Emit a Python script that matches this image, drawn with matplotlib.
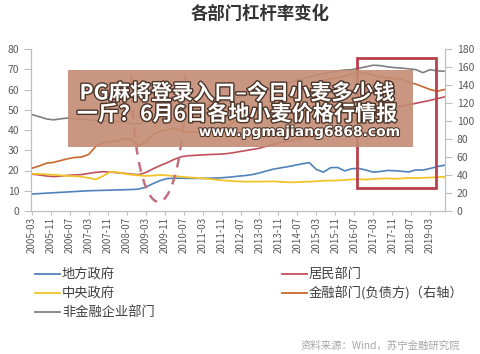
import matplotlib
matplotlib.use("Agg")
import matplotlib.pyplot as plt
import matplotlib.patheffects as pe
from matplotlib.patches import Rectangle, Arc
from matplotlib.lines import Line2D

plt.rcParams['font.family'] = ['Noto Sans CJK SC', 'DejaVu Sans']

# quarterly points, months counted from 2005-03
months = list(range(0, 175, 3))

local_gov = [8.4, 8.6, 8.8, 9.0, 9.2, 9.4, 9.6, 9.8, 10.0, 10.1, 10.2, 10.3,
             10.4, 10.5, 10.6, 10.8, 11.8, 13.5, 15.0, 16.0, 16.2, 16.2, 16.1, 16.1,
             16.1, 16.2, 16.3, 16.5, 16.8, 17.2, 17.5, 18.0, 18.8, 19.8, 20.7, 21.3,
             21.9, 22.6, 23.3, 23.9, 20.5, 19.2, 21.4, 21.5, 19.8, 20.9, 21.0, 20.2,
             19.2, 19.5, 20.0, 19.9, 19.6, 19.3, 20.3, 20.2, 21.0, 21.9, 22.6]
household = [18.2, 17.8, 17.3, 17.0, 17.2, 17.6, 17.8, 18.0, 18.6, 19.1, 19.4, 19.2,
             18.9, 18.6, 18.2, 17.9, 19.0, 20.8, 22.4, 23.8, 25.5, 26.8, 27.3, 27.5,
             27.7, 27.9, 28.0, 28.2, 28.6, 29.2, 29.8, 30.4, 31.0, 32.0, 33.0, 33.8,
             34.5, 35.2, 35.8, 36.4, 37.2, 38.5, 39.8, 41.0, 42.5, 44.2, 45.8, 47.3,
             48.5, 49.5, 50.3, 51.0, 51.8, 52.5, 53.2, 53.9, 54.6, 55.5, 56.3]
central_gov = [18.4, 18.3, 18.1, 17.9, 17.6, 17.3, 17.2, 16.9, 16.3, 15.6, 17.3, 19.3,
               19.2, 18.4, 17.9, 17.6, 17.3, 17.5, 17.8, 17.6, 17.2, 16.9, 16.6, 16.4,
               16.1, 15.8, 15.4, 15.1, 14.8, 14.6, 14.5, 14.5, 14.5, 14.6, 14.6, 14.4,
               14.2, 14.2, 14.4, 14.5, 14.7, 14.9, 15.0, 15.1, 15.3, 15.6, 15.7, 15.5,
               15.8, 16.0, 16.1, 15.9, 16.1, 16.3, 16.2, 16.4, 16.5, 16.7, 16.9]
corporate = [47.6, 46.6, 45.5, 45.0, 45.5, 45.9, 45.6, 45.3, 45.0, 44.6, 44.4, 44.5,
             44.2, 43.8, 43.2, 43.0, 44.5, 47.5, 49.5, 50.5, 51.0, 51.3, 51.5, 51.8,
             52.0, 52.5, 53.2, 54.0, 55.0, 56.0, 57.0, 58.0, 59.0, 60.0, 61.0, 62.0,
             63.2, 64.3, 65.3, 66.2, 67.0, 67.8, 68.5, 69.2, 69.6, 69.8, 70.5, 71.2,
             72.0, 71.8, 71.2, 70.8, 70.6, 70.2, 69.8, 68.3, 69.8, 69.2, 69.0]
financial = [47.5, 50, 53, 54, 56, 58, 59.5, 60, 63, 72, 76, 77,
             78, 80.5, 79, 72.5, 77, 85, 88.5, 90, 92, 89, 88, 87.5,
             87, 88.5, 89.5, 91, 97, 101, 104, 107, 110, 113, 117, 120,
             124, 128, 132, 136, 141, 145, 147, 148, 150, 152, 154, 153,
             151, 149, 148, 147, 146, 143, 141, 138, 135, 133, 135]

tick_months = list(range(0, 169, 8))
tick_labels = ["%d-%02d" % (2005 + (2 + m) // 12, (2 + m) % 12 + 1) for m in tick_months]

fig = plt.figure(figsize=(4.8, 3.54), dpi=100)
ax = fig.add_axes([31 / 480, 1 - 211 / 354, 414 / 480, 162 / 354])
ax2 = ax.twinx()

ax.plot(months, local_gov, color='#4f81bd', lw=1.2)
ax.plot(months, household, color='#c0505a', lw=1.2)
ax.plot(months, central_gov, color='#f2c42c', lw=1.3)
ax.plot(months, corporate, color='#808080', lw=1.2)
ax2.plot(months, financial, color='#c8682c', lw=1.2)

ax.set_xlim(-0.42, 174.3)
ax.set_ylim(0, 80)
ax2.set_ylim(0, 180)
ax.set_yticks(range(0, 81, 10))
ax2.set_yticks(range(0, 181, 20))
ax.set_xticks(tick_months)
ax.set_xticklabels(tick_labels, rotation=90)

for a in (ax, ax2):
    for s in a.spines.values():
        s.set_color('#bfbfbf')
    a.spines['top'].set_visible(False)
    a.tick_params(colors='#bfbfbf', labelcolor='#595959', labelsize=7.5, length=5)
ax.tick_params(axis='x', length=3, labelsize=7, pad=1)

# dashed circle round 2009 and box round 2016-2019
ax.add_patch(Arc((53.4, 67.2), 22.8, 125.4, theta1=180, theta2=360,
                 color='#c0707f', lw=1.8, linestyle=(0, (4, 3)), zorder=4))
ax2.add_patch(Rectangle((137.1, 11.4 * 180 / 80), 33.4, 64.2 * 180 / 80,
                        fill=False, edgecolor='#b8404c', lw=2, zorder=5))

fig.text(260 / 480, 1 - 14 / 354, '各部门杠杆率变化', ha='center', va='center',
         fontsize=12.5, fontweight='bold', color='#333333')

# legend
legend_items = [('地方政府', '#4f81bd', 35, 274), ('中央政府', '#f2c42c', 35, 293),
                ('非金融企业部门', '#808080', 35, 312), ('居民部门', '#c0505a', 282, 274),
                ('金融部门(负债方)（右轴）', '#c8682c', 282, 293)]
for name, col, x0, y0 in legend_items:
    fig.add_artist(Line2D([x0 / 480, (x0 + 25) / 480], [1 - y0 / 354] * 2,
                          color=col, lw=1.3, transform=fig.transFigure))
    fig.text((x0 + 27) / 480, 1 - y0 / 354, name, ha='left', va='center',
             fontsize=9.5, color='#404040')

fig.text(460 / 480, 1 - 346 / 354, '资料来源：Wind，苏宁金融研究院', ha='right',
         va='center', fontsize=7.5, color='#a6a6a6', style='italic')

# watermark banner
fig.add_artist(Rectangle((68 / 480, 1 - 147 / 354), 345 / 480, 77 / 354,
                         transform=fig.transFigure, facecolor='#c48c73',
                         edgecolor='none', alpha=0.9, zorder=10))
shadow = [pe.withStroke(linewidth=2, foreground='#4a3428')]
fig.text(237 / 480, 1 - 93 / 354, 'PG麻将登录入口–今日小麦多少钱', ha='center',
         va='center', fontsize=15.2, fontweight='bold', color='white',
         path_effects=shadow, zorder=11)
fig.text(237 / 480, 1 - 114 / 354, '一斤？6月6日各地小麦价格行情报', ha='center',
         va='center', fontsize=15.2, fontweight='bold', color='white',
         path_effects=shadow, zorder=11)
fig.text(400 / 480, 1 - 132 / 354, 'www.pgmajiang6868.com', ha='right', va='center',
         fontsize=10, fontweight='bold', color='white', family='DejaVu Sans',
         path_effects=[pe.withStroke(linewidth=1.5, foreground='#4a3428')], zorder=11)

fig.savefig('out.png', dpi=100)
